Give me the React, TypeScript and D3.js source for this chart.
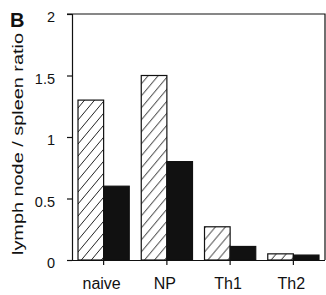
import React, { useEffect, useRef } from "react";
import * as d3 from "d3";

const categories = ["naive", "NP", "Th1", "Th2"];
const series = ["hatched", "solid"];
const hatchedValues = [1.3, 1.5, 0.27, 0.05];
const solidValues = [0.6, 0.8, 0.11, 0.04];
const yTicks = [0, 0.5, 1, 1.5, 2];
const yTickLabels = ["0", "0.5", "1", "1.5", "2"];

const App: React.FC = () => {
  const svgRef = useRef<SVGSVGElement | null>(null);

  useEffect(() => {
    const svg = d3.select(svgRef.current);
    svg.selectAll("*").remove();

    const left = 72;
    const right = 325;
    const top = 14;
    const bottom = 260;
    const fontFamily = "Liberation Sans, Arial, sans-serif";

    svg.append("rect").attr("width", 326).attr("height", 295).attr("fill", "white");

    // hatch pattern for the first series ("/" lines)
    const defs = svg.append("defs");
    const pattern = defs
      .append("pattern")
      .attr("id", "hatch")
      .attr("patternUnits", "userSpaceOnUse")
      .attr("width", 10)
      .attr("height", 12);
    pattern.append("rect").attr("width", 10).attr("height", 12).attr("fill", "white");
    pattern
      .append("path")
      .attr("d", "M0,12 L10,0 M-5,6 L5,-6 M5,18 L15,6")
      .attr("stroke", "#222")
      .attr("stroke-width", 1);

    const x = d3
      .scaleBand<string>()
      .domain(categories)
      .range([left, right])
      .paddingInner(0.19)
      .paddingOuter(0.095);

    const xInner = d3
      .scaleBand<string>()
      .domain(series)
      .range([0, x.bandwidth()]);

    const y = d3.scaleLinear().domain([0, 2]).range([bottom, top]);

    const rows = categories.map((c, i) => ({
      category: c,
      values: [
        { key: "hatched", value: hatchedValues[i] },
        { key: "solid", value: solidValues[i] },
      ],
    }));

    // bars
    const groups = svg
      .selectAll(".group")
      .data(rows)
      .enter()
      .append("g")
      .attr("class", "group")
      .attr("transform", (d) => `translate(${x(d.category)},0)`);

    groups
      .selectAll("rect")
      .data((d) => d.values)
      .enter()
      .append("rect")
      .attr("x", (d) => xInner(d.key)!)
      .attr("y", (d) => y(d.value))
      .attr("width", xInner.bandwidth())
      .attr("height", (d) => y(0) - y(d.value))
      .attr("fill", (d) => (d.key === "hatched" ? "url(#hatch)" : "#111"))
      .attr("stroke", "#111")
      .attr("stroke-width", 1.2);

    // frame
    svg
      .append("path")
      .attr("d", `M${left - 5},${top} H${right} V${bottom}`)
      .attr("fill", "none")
      .attr("stroke", "#111")
      .attr("stroke-width", 1.2);

    // y axis
    const yAxis = svg
      .append("g")
      .attr("transform", `translate(${left},0)`)
      .call(
        d3
          .axisLeft(y)
          .tickValues(yTicks)
          .tickSize(5)
          .tickPadding(12)
          .tickFormat((_d, i) => yTickLabels[i])
      );
    yAxis.select(".domain").attr("stroke", "#111").attr("stroke-width", 1.2);
    yAxis.selectAll(".tick line").attr("stroke", "#111").attr("stroke-width", 1.2);
    yAxis
      .selectAll("text")
      .attr("fill", "#111")
      .attr("dy", "0.55em")
      .style("font-family", fontFamily)
      .style("font-size", "14.5px");

    // x axis
    const xAxis = svg
      .append("g")
      .attr("transform", `translate(0,${bottom})`)
      .call(d3.axisBottom(x).tickSize(5).tickPadding(13).tickSizeOuter(0));
    xAxis
      .select(".domain")
      .attr("d", `M${left - 5},0.5H${right}`)
      .attr("stroke", "#111")
      .attr("stroke-width", 1.2);
    xAxis.selectAll(".tick line").attr("stroke", "#111").attr("stroke-width", 1.2);
    xAxis
      .selectAll("text")
      .attr("fill", "#111")
      .attr("x", -2)
      .style("font-family", fontFamily)
      .style("font-size", "16px");

    // y axis title
    svg
      .append("text")
      .attr("transform", `translate(23,144) rotate(-90)`)
      .attr("text-anchor", "middle")
      .attr("fill", "#111")
      .attr("textLength", 222)
      .attr("lengthAdjust", "spacingAndGlyphs")
      .style("font-family", fontFamily)
      .style("font-size", "15px")
      .text("lymph node / spleen ratio");

    // panel letter
    svg
      .append("text")
      .attr("x", 10)
      .attr("y", 27)
      .attr("fill", "#111")
      .style("font-family", fontFamily)
      .style("font-size", "20px")
      .style("font-weight", "bold")
      .text("B");
  }, []);

  return (
    <svg
      ref={svgRef}
      width={326}
      height={295}
      style={{ position: "absolute", left: 0, top: 0 }}
    ></svg>
  );
};

export default App;
